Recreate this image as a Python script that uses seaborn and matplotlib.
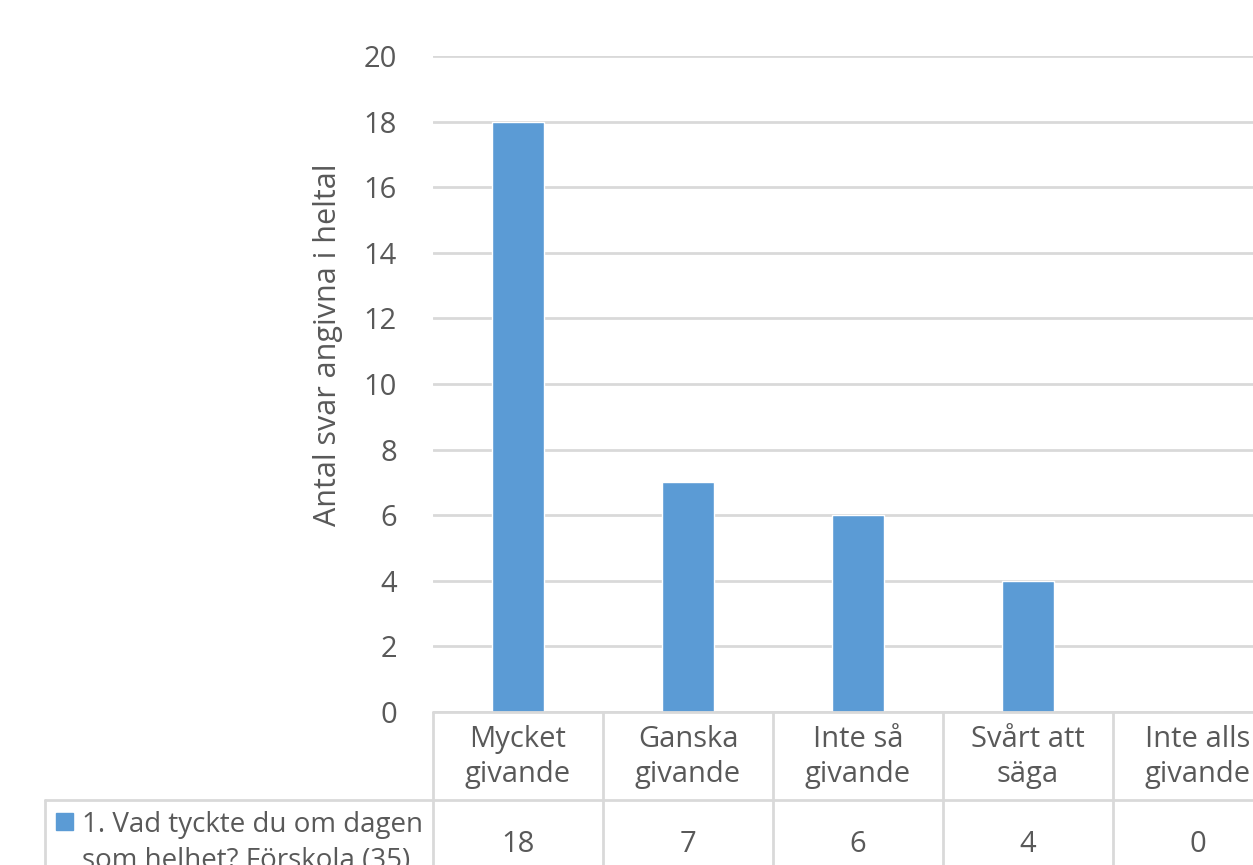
import matplotlib
matplotlib.use('Agg')
import matplotlib.pyplot as plt
import seaborn as sns
import pandas as pd
from matplotlib.lines import Line2D
from matplotlib.patches import Rectangle

# ================= DATA =================
categories = ['Mycket\ngivande', 'Ganska\ngivande', 'Inte så\ngivande', 'Svårt att\nsäga', 'Inte alls\ngivande']
values = [18, 7, 6, 4, 0]
series_name = '1. Vad tyckte du om dagen\nsom helhet? Förskola (35)'
y_ticks = [0, 2, 4, 6, 8, 10, 12, 14, 16, 18, 20]
y_label = 'Antal svar angivna i heltal'

BAR = '#5B9BD5'
GRID = '#D9D9D9'
TXT = '#595959'
W, H = 1253, 865
FS = 21

sns.set_theme(style="white")
plt.rcParams['font.family'] = ['Open Sans', 'DejaVu Sans']

def fx(px):
    return px / W

def fy(py):
    return 1 - py / H

fig = plt.figure(figsize=(W / 100, H / 100), dpi=100)
# plot area runs past the right edge, like the cropped original
ax = fig.add_axes([fx(433), fy(712), fx(1283) - fx(433), fy(56) - fy(712)])

df = pd.DataFrame({'cat': categories, 'val': values})
sns.barplot(data=df, x='cat', y='val', color=BAR, width=0.31, saturation=1, ax=ax, zorder=3)

ax.set_ylim(0, 20)
ax.set_xlim(-0.5, len(categories) - 0.5)
ax.set_yticks(y_ticks)
ax.set_yticklabels([str(t) for t in y_ticks], fontsize=FS, color=TXT)
ax.tick_params(axis='y', length=0, pad=26)
ax.set_xticks([])
ax.set_xlabel('')
ax.set_ylabel('')
ax.yaxis.grid(True, color=GRID, linewidth=2)
ax.set_axisbelow(True)
for s in ax.spines.values():
    s.set_visible(False)

fig.text(fx(328), fy(345), y_label, rotation=90, ha='center', va='center',
         fontsize=22, color=TXT)

# ---------- data table below the plot ----------
lw = 2
fig.add_artist(Line2D([fx(433), 1], [fy(712), fy(712)], color=GRID, lw=lw))
fig.add_artist(Line2D([fx(45), 1], [fy(800), fy(800)], color=GRID, lw=lw))
fig.add_artist(Line2D([fx(45), fx(45)], [fy(800), 0], color=GRID, lw=lw))
bounds = [433, 603, 773, 943, 1113]
for b in bounds:
    fig.add_artist(Line2D([fx(b), fx(b)], [fy(712), 0], color=GRID, lw=lw))

for i, (c, v) in enumerate(zip(categories, values)):
    cx = 518 + 170 * i
    fig.text(fx(cx), fy(757), c, ha='center', va='center', fontsize=FS,
             color=TXT, linespacing=1.3)
    fig.text(fx(cx), fy(844), str(v), ha='center', va='center', fontsize=FS,
             color=TXT)

fig.add_artist(Rectangle((fx(56), fy(830)), fx(17), fy(813) - fy(830), color=BAR,
                         transform=fig.transFigure))
fig.text(fx(82), fy(843), series_name, ha='left', va='center', fontsize=20,
         color=TXT, linespacing=1.35)

fig.savefig('out.png', dpi=100)
